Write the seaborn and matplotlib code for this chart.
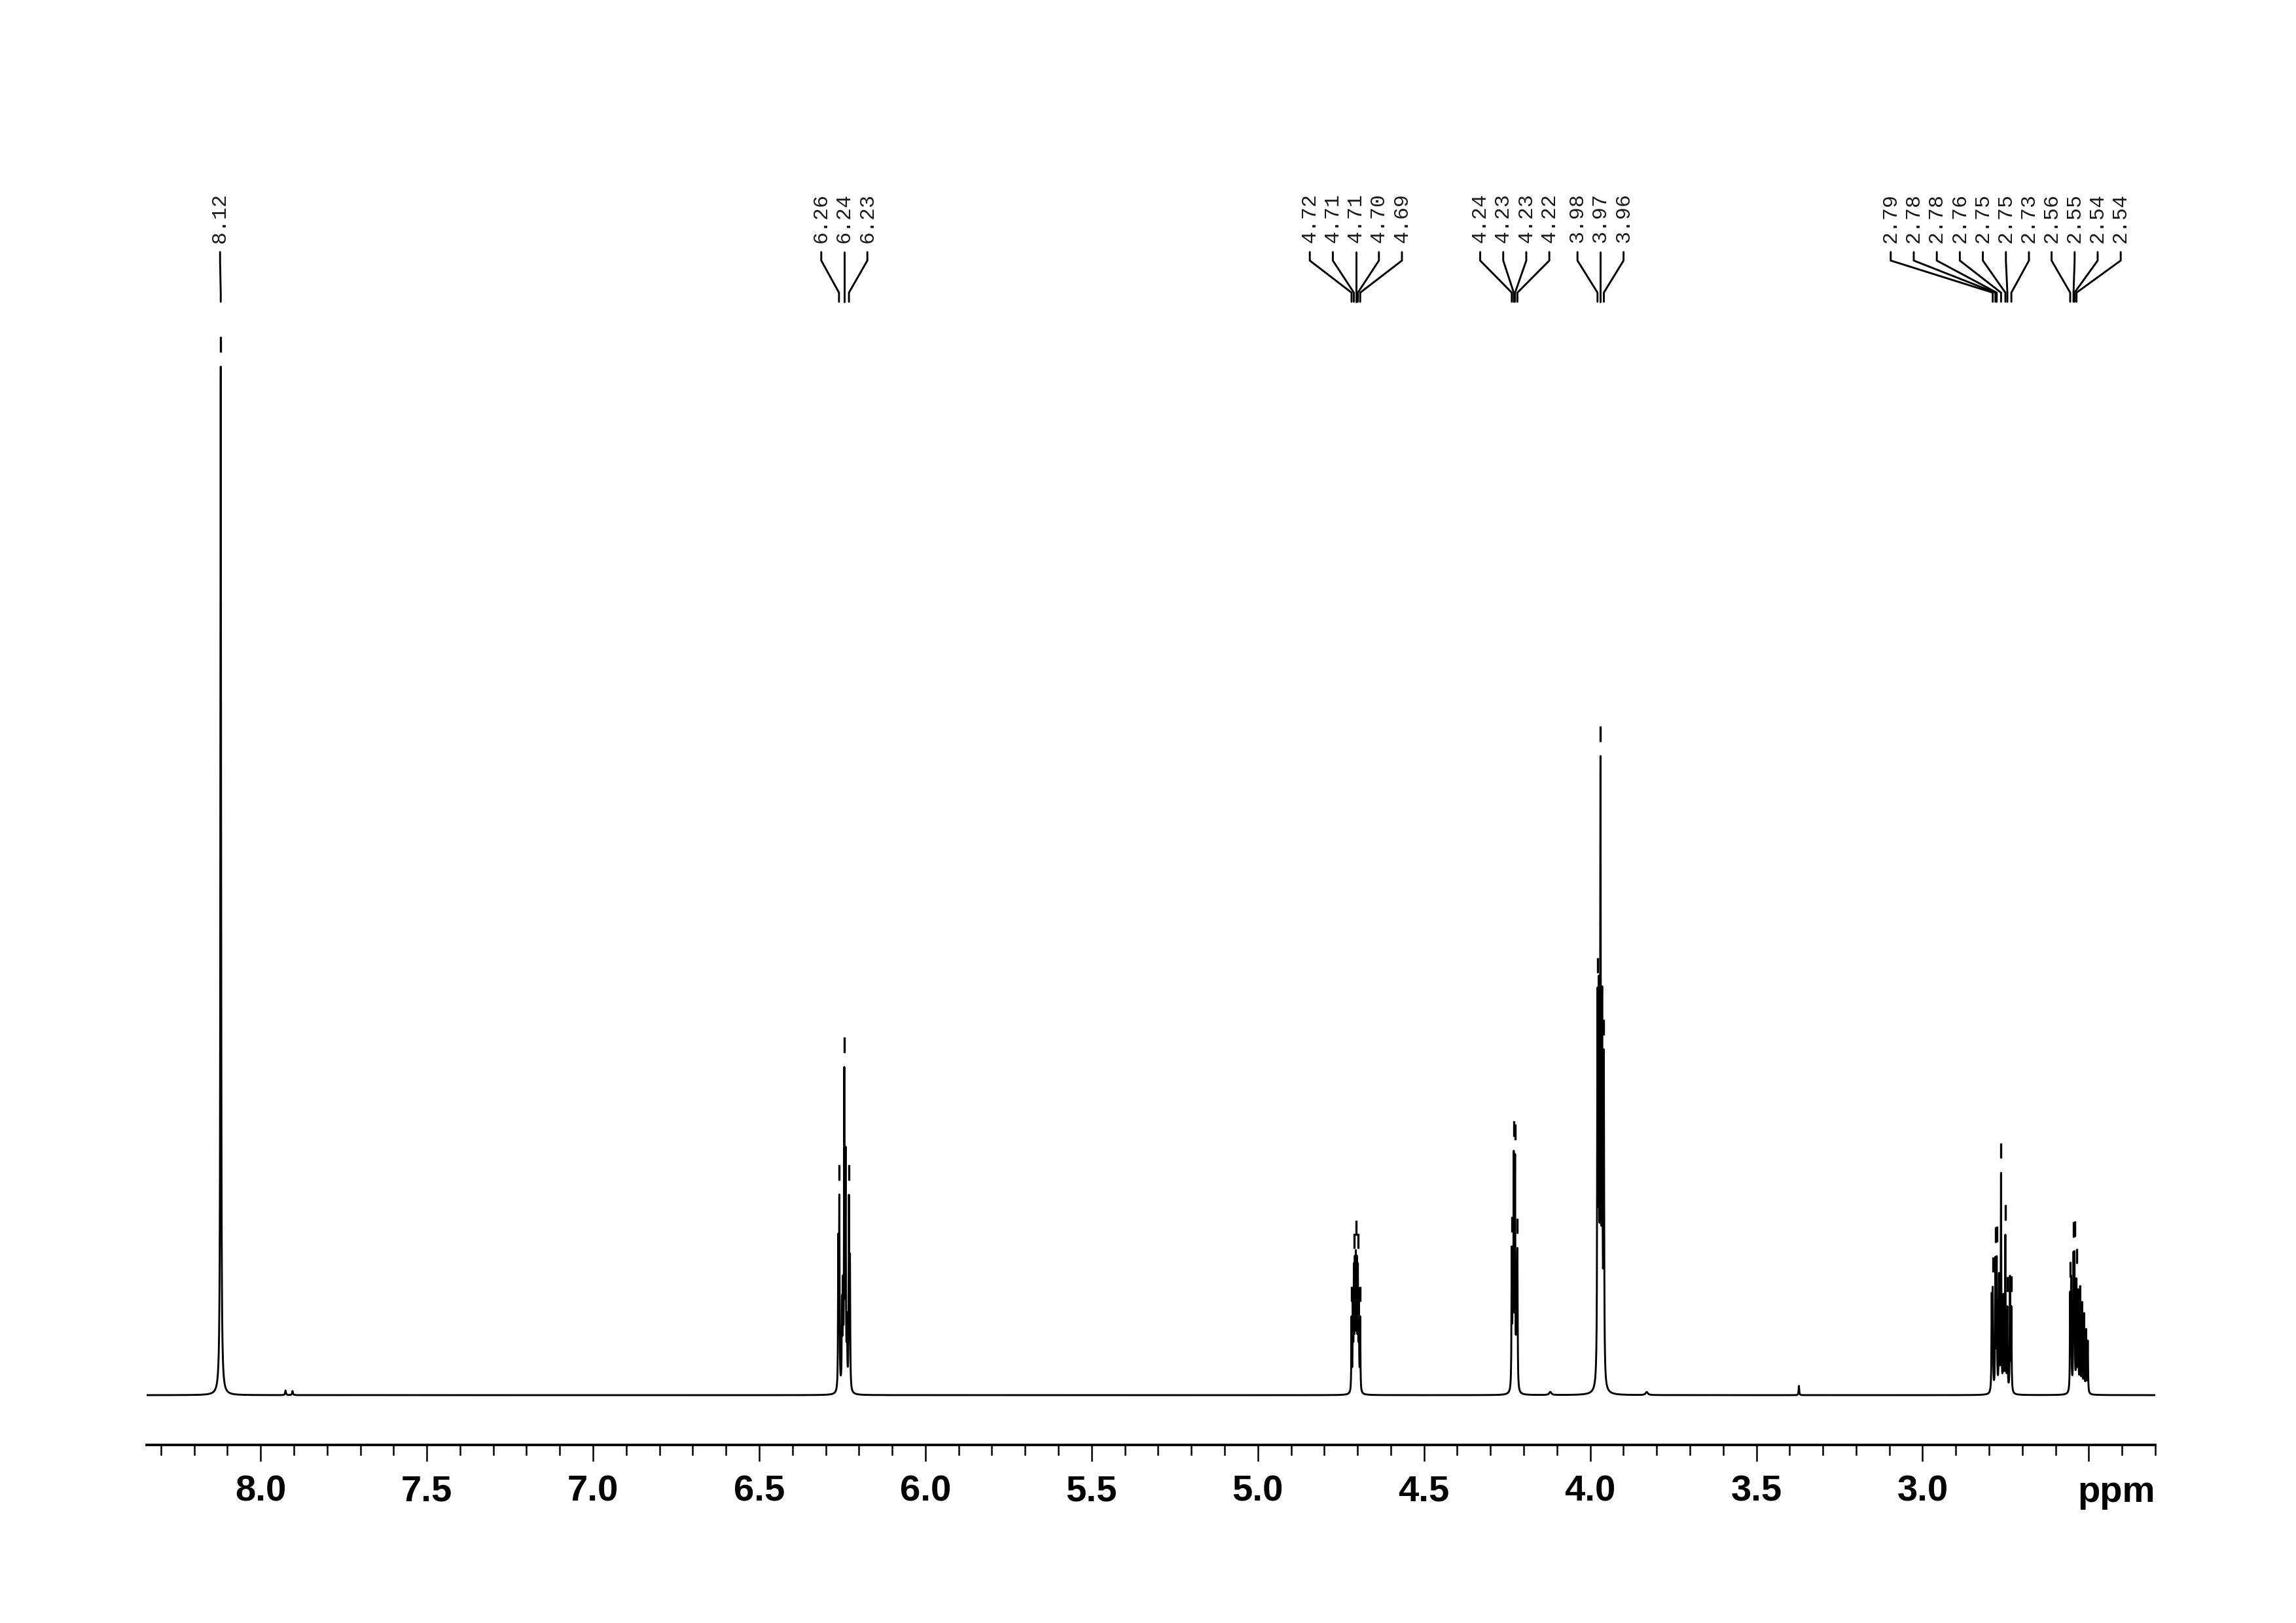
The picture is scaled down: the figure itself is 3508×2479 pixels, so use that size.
import numpy as np
import pandas as pd
import matplotlib
matplotlib.use("Agg")
import matplotlib.pyplot as plt
import seaborn as sns
from matplotlib.transforms import blended_transform_factory

# ---------------- data ----------------
# resonance lines: position (ppm), height (a.u.), line width FWHM (ppm)
line_ppm = [8.120,
            7.925, 7.904,
            6.262, 6.259, 6.251, 6.248, 6.244, 6.240, 6.236, 6.230, 6.227,
            4.718, 4.714, 4.711, 4.708, 4.705, 4.702, 4.699, 4.696, 4.692,
            4.236, 4.233, 4.230, 4.226, 4.222, 4.219,
            4.12,
            3.978, 3.974, 3.969, 3.964, 3.959,
            3.83, 3.372,
            2.792, 2.789, 2.781, 2.777, 2.770, 2.764, 2.757, 2.751, 2.745, 2.737, 2.733,
            2.556, 2.553, 2.546, 2.543, 2.537, 2.532, 2.526, 2.520, 2.514, 2.508, 2.503]
line_h = [100.0,
          0.45, 0.40,
          14.0, 18.0, 8.0, 9.0, 30.0, 22.0, 6.0, 18.0, 12.0,
          7.0, 9.0, 11.0, 11.5, 12.0, 11.5, 11.0, 9.0, 7.0,
          13.0, 9.0, 21.5, 21.5, 9.0, 13.0,
          0.3,
          36.0, 35.0, 58.0, 35.0, 31.0,
          0.3, 0.9,
          9.0, 9.5, 12.5, 12.5, 11.0, 21.0, 9.0, 15.0, 8.0, 11.0, 8.0,
          9.0, 10.5, 12.5, 12.5, 10.5, 9.5, 10.0, 8.5, 7.5, 6.0, 5.0]
line_w = [0.0025,
          0.003, 0.003,
          0.0018, 0.0018, 0.0018, 0.0018, 0.0018, 0.0018, 0.0018, 0.0018, 0.0018,
          0.0016, 0.0016, 0.0016, 0.0016, 0.0016, 0.0016, 0.0016, 0.0016, 0.0016,
          0.0018, 0.0018, 0.0018, 0.0018, 0.0018, 0.0018,
          0.008,
          0.0022, 0.0022, 0.0022, 0.0022, 0.0022,
          0.008, 0.002,
          0.0018, 0.0018, 0.0018, 0.0018, 0.0018, 0.0018, 0.0018, 0.0018, 0.0018, 0.0018, 0.0018,
          0.0018, 0.0018, 0.0018, 0.0018, 0.0018, 0.0018, 0.0018, 0.0018, 0.0018, 0.0018, 0.0018]

# picked peaks (labels) and the multiplet group each belongs to
pick_ppm = [8.120,
            6.260, 6.244, 6.230,
            4.718, 4.711, 4.705, 4.699, 4.692,
            4.236, 4.230, 4.226, 4.219,
            3.978, 3.969, 3.959,
            2.789, 2.781, 2.777, 2.764, 2.751, 2.745, 2.733,
            2.556, 2.546, 2.543, 2.537]
pick_text = ["8.12",
             "6.26", "6.24", "6.23",
             "4.72", "4.71", "4.71", "4.70", "4.69",
             "4.24", "4.23", "4.23", "4.22",
             "3.98", "3.97", "3.96",
             "2.79", "2.78", "2.78", "2.76", "2.75", "2.75", "2.73",
             "2.56", "2.55", "2.54", "2.54"]
pick_group = [0, 1, 1, 1, 2, 2, 2, 2, 2, 3, 3, 3, 3, 4, 4, 4,
              5, 5, 5, 5, 5, 5, 5, 6, 6, 6, 6]

major_ticks = [8.0, 7.5, 7.0, 6.5, 6.0, 5.5, 5.0, 4.5, 4.0, 3.5, 3.0, 2.5]
major_labels = ["8.0", "7.5", "7.0", "6.5", "6.0", "5.5", "5.0", "4.5", "4.0", "3.5", "3.0", ""]
axis_label = "ppm"

# ---------------- layout ----------------
W, H = 3508, 2479
X_LEFT, X_RIGHT = 8.343, 2.30
group_label_center = [8.122, 6.244, 4.705, 4.227, 3.969, 2.888, 2.508]
label_step = 0.0693  # ppm between neighbouring label texts
AX_BOTTOM_PX, AX_TOP_PX, BASE_PX = 2207, 250, 2131
px_per_unit = 15.71


def fy(px):
    return 1 - px / H


# ---------------- build spectrum ----------------
ppm = np.arange(X_RIGHT, X_LEFT + 1e-9, 0.0002)
inten = np.zeros_like(ppm)
for p0, h0, w0 in zip(line_ppm, line_h, line_w):
    hw = w0 / 2
    inten += h0 * hw ** 2 / ((ppm - p0) ** 2 + hw ** 2)
df = pd.DataFrame({"ppm": ppm, "intensity": inten})

sns.set_theme(style="white")
plt.rcParams["font.family"] = ["Liberation Sans", "DejaVu Sans"]

fig = plt.figure(figsize=(W / 300, H / 300), dpi=300)
fig.patch.set_facecolor("white")
ax = fig.add_axes([224 / W, fy(AX_BOTTOM_PX), (3293 - 224) / W, (AX_BOTTOM_PX - AX_TOP_PX) / H])
ax.set_facecolor("white")

sns.lineplot(data=df, x="ppm", y="intensity", ax=ax, color="black",
             linewidth=0.7, estimator=None, sort=False)

ybot = -(AX_BOTTOM_PX - BASE_PX) / px_per_unit
ax.set_xlim(X_LEFT, X_RIGHT)
ax.set_ylim(ybot, ybot + (AX_BOTTOM_PX - AX_TOP_PX) / px_per_unit)

for s in ["top", "left", "right"]:
    ax.spines[s].set_visible(False)
ax.spines["bottom"].set_linewidth(0.9)
ax.spines["bottom"].set_color("black")
ax.set_yticks([])
ax.set_ylabel("")
ax.set_xlabel("")
ax.set_xticks(major_ticks)
ax.set_xticklabels(major_labels)
ax.set_xticks(np.round(np.arange(8.3, 2.25, -0.1), 2), minor=True)
ax.tick_params(axis="x", which="major", direction="out", length=6.0, width=0.6,
               color="black", pad=5, labelsize=13.5, labelcolor="black", bottom=True)
ax.tick_params(axis="x", which="minor", direction="out", length=3.8, width=0.6,
               color="black", bottom=True)
for t in ax.get_xticklabels():
    t.set_fontweight("bold")
ax.text(1.0, fy(2254), axis_label, transform=blended_transform_factory(ax.transAxes, fig.transFigure),
        ha="right", va="top", fontsize=13.5, fontweight="bold", color="black")

# ---------------- peak picking marks and labels ----------------
trans = blended_transform_factory(ax.transData, fig.transFigure)
counts = {}
for g in pick_group:
    counts[g] = counts.get(g, 0) + 1
seen = {}
for p, txt, g in zip(pick_ppm, pick_text, pick_group):
    i = seen.get(g, 0)
    seen[g] = i + 1
    n = counts[g]
    lx = group_label_center[g] + ((n - 1) / 2 - i) * label_step
    # tick mark above peak top
    m = np.abs(ppm - p) < 0.0012
    top = inten[m].max()
    ax.vlines(p, top + 1.4, top + 2.9, color="black", linewidth=0.8)
    # label and lead line
    ax.text(lx, fy(371), txt, transform=trans, rotation=90, ha="center", va="bottom",
            fontsize=7.6, family=["Liberation Mono", "DejaVu Sans Mono"], color="#1a1a1a")
    ax.plot([lx, lx, p, p], [fy(385), fy(398), fy(447), fy(461)], transform=trans,
            color="black", linewidth=0.7, clip_on=False, solid_joinstyle="miter")

fig.savefig("out.png", dpi=300, facecolor="white")
